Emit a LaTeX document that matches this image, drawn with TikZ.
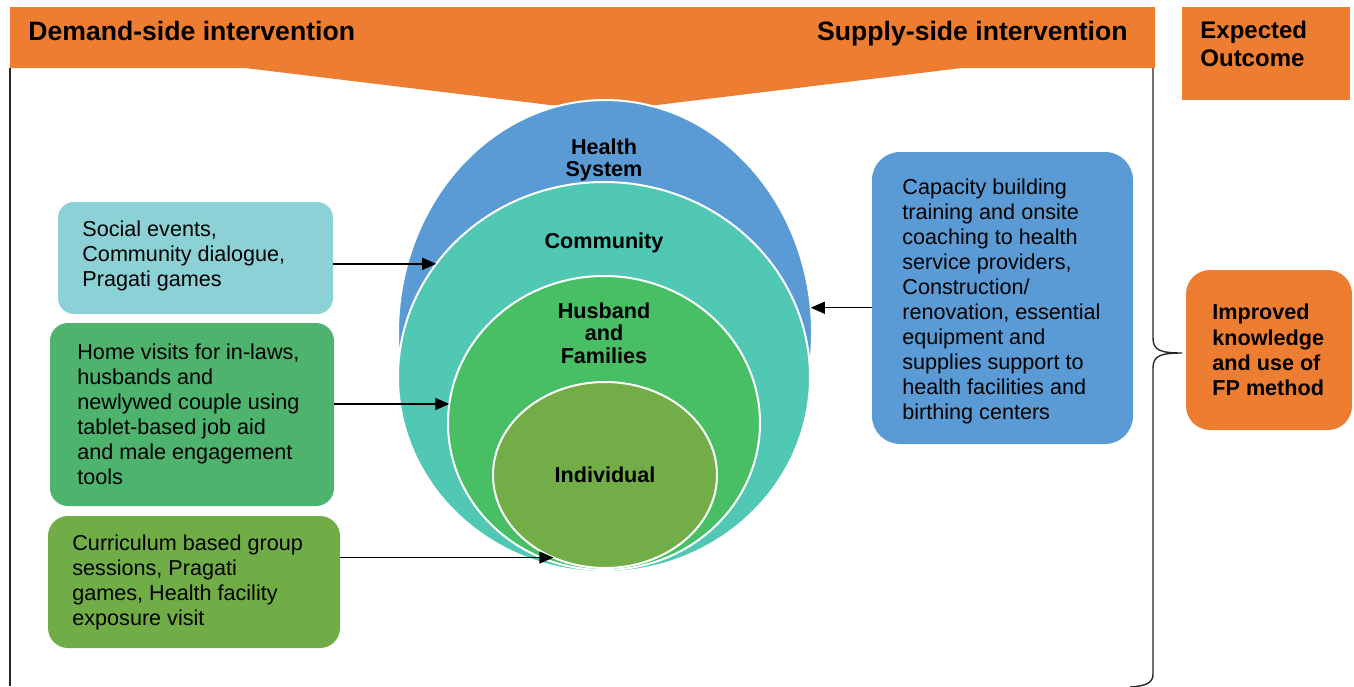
\documentclass[tikz,border=0pt]{standalone}
\usepackage{fontspec}
\setmainfont{Liberation Sans}
\usetikzlibrary{shapes.geometric,arrows.meta}

\definecolor{bandorange}{HTML}{ED7D31}
\definecolor{sysblue}{HTML}{5B9BD5}
\definecolor{commteal}{HTML}{50C8B4}
\definecolor{famgreen}{HTML}{48BF64}
\definecolor{indgreen}{HTML}{72AD47}
\definecolor{socialteal}{HTML}{8CD1D5}
\definecolor{homegreen}{HTML}{4DB36D}
\definecolor{currgreen}{HTML}{70AD47}

\begin{document}
\begin{tikzpicture}[x=0.5pt,y=-0.5pt,
  box/.style={rectangle, inner sep=0pt, outer sep=0pt},
  ring/.style={ellipse, draw=white, line width=1pt, inner sep=0pt, outer sep=0pt},
  bodytext/.style={inner sep=0pt, align=left, anchor=west, text=black,
    font=\fontsize{10.8}{12.5}\selectfont},
  ringlabel/.style={inner sep=0pt, align=center, text=black,
    font=\fontsize{10.8}{11.2}\selectfont\bfseries},
  headtext/.style={inner sep=0pt, text=black, font=\fontsize{13.3}{15}\selectfont\bfseries},
  arr/.style={line width=0.7pt, -{Triangle[length=7pt,width=6pt]}},
  frameline/.style={line width=0.7pt, draw=black!85}]
\useasboundingbox (0,0) rectangle (1354,686);

% frame lines and right brace
\draw[frameline] (10,68) -- (10,686);
\draw[frameline] (1153,66) -- (1153,338)
  .. controls (1153,350) and (1160,353) .. (1182,353)
  .. controls (1160,353) and (1153,356) .. (1153,368)
  -- (1153,674) .. controls (1153,683) and (1146,686) .. (1130,687);

% top banner funnelling into the circles
\fill[bandorange] (10,7) -- (1155,7) -- (1155,68) -- (962,68) -- (657,105)
  -- (550,105) -- (245,68) -- (10,68) -- cycle;
\node[headtext, anchor=base west] (demand) at (28,40) {Demand-side intervention};
\node[headtext, anchor=base east] (supply) at (1128,40) {Supply-side intervention};

% expected outcome header
\node[box, fill=bandorange, minimum width=84pt, minimum height=46.5pt] (exp) at (1266,53.5) {};
\node[inner sep=0pt, align=left, anchor=west, font=\fontsize{12}{14}\selectfont\bfseries]
  (expt) at ([xshift=9pt,yshift=5pt]exp.west) {Expected\\Outcome};

% nested levels
\node[ring, fill=sysblue, minimum width=207pt, minimum height=233pt] (sys) at (605,333) {};
\node[ring, fill=commteal, minimum width=206pt, minimum height=195pt] (comm) at (604,377) {};
\node[ring, fill=famgreen, minimum width=156pt, minimum height=147pt] (fam) at (604,423) {};
\node[ring, fill=indgreen, minimum width=112pt, minimum height=93pt] (ind) at (605,475) {};

\node[ringlabel] (syst) at (604,160) {Health\\System};
\node[ringlabel] (commt) at (604,243) {Community};
\node[ringlabel] (famt) at (604,333) {Husband\\and\\Families};
\node[ringlabel] (indt) at (605,475) {Individual};

% demand-side boxes
\node[box, fill=socialteal, rounded corners=8pt, minimum width=137.5pt, minimum height=56pt] (b1) at (195.5,258) {};
\node[bodytext] (t1) at ([xshift=12pt,yshift=1pt]b1.west)
  {Social events,\\Community dialogue,\\Pragati games};

\node[box, fill=homegreen, rounded corners=9pt, minimum width=142pt, minimum height=91.5pt] (b2) at (192,414.5) {};
\node[bodytext] (t2) at ([xshift=13.5pt]b2.west)
  {Home visits for in-laws,\\husbands and\\newlywed couple using\\tablet-based job aid\\and male engagement\\tools};

\node[box, fill=currgreen, rounded corners=10pt, minimum width=146pt, minimum height=66pt] (b3) at (194,582) {};
\node[bodytext] (t3) at ([xshift=12pt]b3.west)
  {Curriculum based group\\sessions, Pragati\\games, Health facility\\exposure visit};

% supply-side box
\node[box, fill=sysblue, rounded corners=14pt, minimum width=130.5pt, minimum height=146pt] (b4) at (1002.5,298) {};
\node[bodytext] (t4) at ([xshift=15pt,yshift=-1.5pt]b4.west)
  {Capacity building\\training and onsite\\coaching to health\\service providers,\\Construction/\\renovation, essential\\equipment and\\supplies support to\\health facilities and\\birthing centers};

% outcome box
\node[box, fill=bandorange, rounded corners=12pt, minimum width=83pt, minimum height=80pt] (out) at (1269,350) {};
\node[inner sep=0pt, align=left, anchor=west, font=\fontsize{10.8}{12.7}\selectfont\bfseries]
  (outt) at ([xshift=13pt]out.west) {Improved\\knowledge\\and use of\\FP method};

% connectors
\draw[arr] (b1.east |- comm.146) -- (comm.146);
\draw[arr] (b2.east |- fam.173) -- (fam.173);
\draw[arr] (b3.east |- ind.238) -- (ind.238);
\draw[arr] (b4.west |- sys.7) -- (sys.7);
\end{tikzpicture}
\end{document}
